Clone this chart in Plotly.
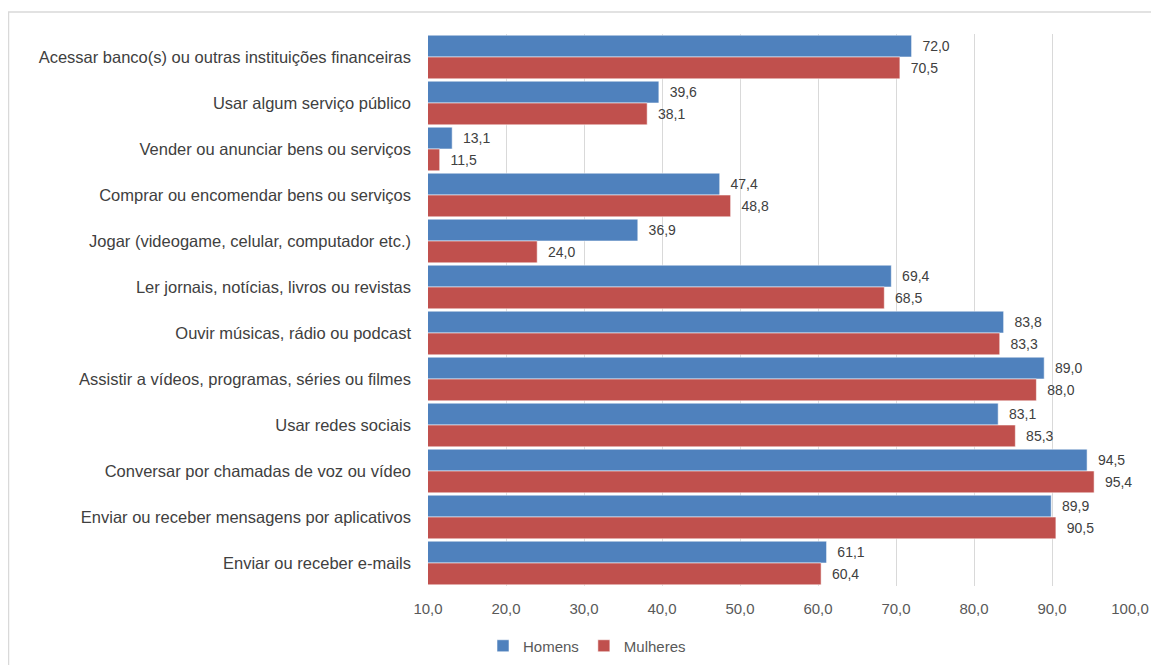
import plotly.graph_objects as go

categories = [
    "Acessar banco(s) ou outras instituições financeiras",
    "Usar algum serviço público",
    "Vender ou anunciar bens ou serviços",
    "Comprar ou encomendar bens ou serviços",
    "Jogar (videogame, celular, computador etc.)",
    "Ler jornais, notícias, livros ou revistas",
    "Ouvir músicas, rádio ou podcast",
    "Assistir a vídeos, programas, séries ou filmes",
    "Usar redes sociais",
    "Conversar por chamadas de voz ou vídeo",
    "Enviar ou receber mensagens por aplicativos",
    "Enviar ou receber e-mails",
]
homens = [72.0, 39.6, 13.1, 47.4, 36.9, 69.4, 83.8, 89.0, 83.1, 94.5, 89.9, 61.1]
mulheres = [70.5, 38.1, 11.5, 48.8, 24.0, 68.5, 83.3, 88.0, 85.3, 95.4, 90.5, 60.4]
tick_vals = [10, 20, 30, 40, 50, 60, 70, 80, 90, 100]

FONT = "Liberation Sans"
# page offset (body margin) compensation: figure pixel = page pixel - 8
L, R, T, B = 420, 37, 26, 86
PW = 1159 - L - R
PH = 665 - T - B

fig = go.Figure()
for name, vals, color in [("Homens", homens, "#4F81BD"), ("Mulheres", mulheres, "#C0504D")]:
    fig.add_trace(go.Bar(
        y=categories, x=vals, name=name, orientation="h",
        marker=dict(color=color, line=dict(color="rgba(255,255,255,0.55)", width=1)),
        texttemplate="\u00a0\u00a0%{x:.1f}", textposition="outside",
        textfont=dict(family=FONT, size=14, color="#404040"),
        cliponaxis=False,
    ))

fig.update_layout(
    width=1159, height=665,
    separators=",.",
    barmode="group", bargap=0.05, bargroupgap=0,
    plot_bgcolor="white", paper_bgcolor="white",
    margin=dict(l=L, r=R, t=T, b=B),
    font=dict(family=FONT, size=15, color="#595959"),
    xaxis=dict(range=[10, 100], tickvals=tick_vals, tickformat=".1f",
               showgrid=True, gridcolor="#D9D9D9", gridwidth=1, zeroline=False,
               showline=False, ticks="", ticklabelstandoff=12,
               tickfont=dict(size=15, color="#595959")),
    yaxis=dict(autorange="reversed", showgrid=False, ticks="", ticklen=0,
               ticklabelstandoff=16,
               tickfont=dict(size=16.5, color="#404040")),
    legend=dict(orientation="h", x=(579 - L) / PW, xanchor="center",
                y=((665 - B) - 638) / PH, yanchor="middle",
                font=dict(size=15, color="#595959"), itemwidth=30),
    showlegend=True,
    shapes=[dict(type="rect", xref="paper", yref="paper",
                 x0=(0.5 - L) / PW, x1=(1170 - L) / PW,
                 y0=((665 - B) - 690) / PH, y1=((665 - B) - 4) / PH,
                 line=dict(color="#D9D9D9", width=1.5), layer="below")],
)
fig.write_html("out.html")
